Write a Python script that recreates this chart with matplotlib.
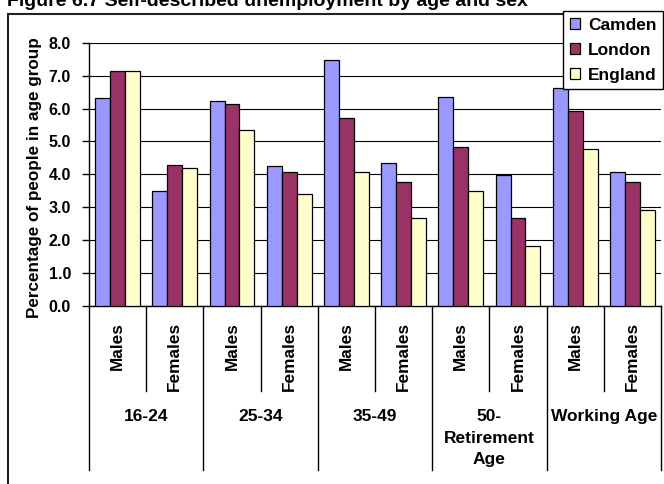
import matplotlib
matplotlib.use("Agg")
import matplotlib.pyplot as plt
import matplotlib.transforms as mtransforms
from matplotlib.patches import Rectangle
import numpy as np

plt.rcParams['font.family'] = ['Liberation Sans', 'DejaVu Sans']
plt.rcParams['font.weight'] = 'bold'

title = "Figure 6.7 Self-described unemployment by age and sex"
groups = ["16-24", "25-34", "35-49", "50-\nRetirement\nAge", "Working Age"]
sexes = ["Males", "Females"]
series_names = ["Camden", "London", "England"]
camden = [6.32, 3.48, 6.23, 4.26, 7.47, 4.34, 6.36, 3.98, 6.63, 4.08]
london = [7.15, 4.29, 6.14, 4.06, 5.71, 3.77, 4.82, 2.67, 5.91, 3.77]
england = [7.15, 4.20, 5.36, 3.40, 4.08, 2.67, 3.48, 1.83, 4.76, 2.93]
colors = ["#9999FF", "#993366", "#FFFFCC"]
yticks = [0.0, 1.0, 2.0, 3.0, 4.0, 5.0, 6.0, 7.0, 8.0]

W, H = 664, 484
fig = plt.figure(figsize=(W / 100, H / 100), dpi=100)

def fx(px):
    return px / W

def fy(py):
    return (H - py) / H

ax = fig.add_axes([fx(89), fy(306), fx(661) - fx(89), fy(42.7) - fy(306)])

n = len(camden)
x = np.arange(n)
bw = 0.26
for i, (vals, c, name) in enumerate(zip([camden, london, england], colors, series_names)):
    ax.bar(x + (i - 1) * bw, vals, width=bw, color=c, edgecolor='black',
           linewidth=0.9, label=name, zorder=3)

ax.set_xlim(-0.5, n - 0.5)
ax.set_ylim(0, 8)
ax.set_yticks(yticks)
ax.set_yticklabels([f"{v:.1f}" for v in yticks], fontsize=11.5, fontweight='bold')
ax.tick_params(axis='y', direction='out', length=5, width=1, pad=8, colors='black')
ax.set_xticks([])
ax.yaxis.grid(True, color='black', linewidth=0.8, zorder=0)
ax.set_axisbelow(True)
for s in ['top', 'right']:
    ax.spines[s].set_visible(False)
ax.spines['left'].set_linewidth(1.0)
ax.spines['bottom'].set_linewidth(1.0)

# category separators and labels below the axis
trans = mtransforms.blended_transform_factory(ax.transData, fig.transFigure)
for b in np.arange(-0.5, n, 1.0):
    long_line = (int(round(b + 0.5)) % 2 == 0)
    y_end = fy(470) if long_line else fy(391)
    ax.plot([b, b], [fy(306), y_end], color='black', linewidth=1.0,
            transform=trans, clip_on=False)

for i in range(n):
    ax.text(i, fy(322), sexes[i % 2], rotation=90, ha='center', va='top',
            fontsize=12.4, fontweight='bold', transform=trans)

for g, name in enumerate(groups):
    ax.text(2 * g + 0.5, fy(409), name, ha='center', va='top', fontsize=12.5,
            fontweight='bold', transform=trans, linespacing=1.55)

fig.text(fx(35), fy(177.5), "Percentage of people in age group", rotation=90,
         ha='center', va='center', fontsize=12.3, fontweight='bold')

fig.text(fx(7), fy(5.5), title, ha='left', va='baseline', fontsize=14,
         fontweight='bold')

# outer chart frame
fig.patches.append(Rectangle((fx(8), -0.2), 2, fy(14) + 0.2, fill=False,
                             edgecolor='#222222', linewidth=1.5,
                             transform=fig.transFigure, zorder=1))

leg = fig.legend(loc='upper right', bbox_to_anchor=(fx(663), fy(11)),
                 borderaxespad=0, prop={'weight': 'bold', 'size': 12.5},
                 handlelength=0.6, handleheight=0.6, handletextpad=0.45,
                 labelspacing=0.58, borderpad=0.38, fancybox=False,
                 framealpha=1, edgecolor='black')
leg.get_frame().set_linewidth(1.0)
leg.set_zorder(10)

fig.savefig("out.png", dpi=100)
